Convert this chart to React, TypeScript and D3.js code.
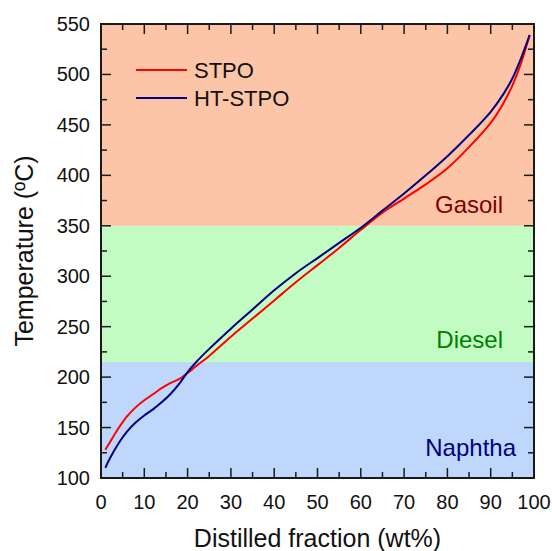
import React from "react";
import * as d3 from "d3";

const fraction = [1, 2, 4, 6, 8, 10, 12, 14, 16, 18, 20, 22, 25, 30, 35, 40, 45, 50, 55, 60, 65, 70, 75, 80, 85, 90, 93, 95, 97, 99];
const stpo = [128, 135, 149, 161, 170, 177, 183, 189, 194, 198, 204, 211, 221, 240, 258, 276, 294, 311, 328, 346, 363, 377, 391, 407, 428, 452, 472, 489, 511, 539];
const htStpo = [110, 119, 134, 146, 155, 162, 168, 175, 183, 193, 205, 215, 228, 248, 267, 286, 303, 318, 333, 348, 365, 382, 400, 419, 440, 463, 481, 496, 516, 539];

const regionNames = ["Naphtha", "Diesel", "Gasoil"];
const regionLow = [100, 215, 350];
const regionHigh = [215, 350, 550];
const regionFill = ["#BFD7FA", "#C3FCC3", "#FCC5A7"];
const regionText = ["#000080", "#008000", "#800000"];
const regionLabelY = [122, 229, 363];

const xTicks = [0, 10, 20, 30, 40, 50, 60, 70, 80, 90, 100];
const yTicks = [100, 150, 200, 250, 300, 350, 400, 450, 500, 550];

const seriesNames = ["STPO", "HT-STPO"];
const seriesColors = ["#FF0000", "#000080"];

export default function App() {
  const W = 552, H = 551;
  const L = 101, R = 534, T = 24, B = 478;
  const x = d3.scaleLinear().domain([0, 100]).range([L, R]);
  const y = d3.scaleLinear().domain([100, 550]).range([B, T]);
  const line = d3
    .line<number>()
    .x((_, i) => x(fraction[i]))
    .curve(d3.curveCatmullRom.alpha(0.5));
  const series = [stpo, htStpo];
  const xMinor = d3.range(0, 101, 5);
  const yMinor = d3.range(100, 551, 25);
  const font = "'Liberation Sans', Arial, sans-serif";
  const axisColor = "#1a1a1a";

  return (
    <svg width={W} height={H} style={{ position: "absolute", left: 0, top: 0 }} fontFamily={font}>
      {regionNames.map((n, i) => (
        <rect key={n} x={L} width={R - L} y={y(regionHigh[i])} height={y(regionLow[i]) - y(regionHigh[i])} fill={regionFill[i]} />
      ))}
      {regionNames.map((n, i) => (
        <text key={n + "t"} x={i === 0 ? 516 : 503} y={y(regionLabelY[i])} textAnchor="end" fontSize={24} fill={regionText[i]}>
          {n}
        </text>
      ))}
      {series.map((s, i) => (
        <path key={i} d={line.y((d) => y(d))(s) || ""} fill="none" stroke={seriesColors[i]} strokeWidth={2} />
      ))}
      {xMinor.map((v) => {
        const major = v % 10 === 0;
        const len = major ? 10 : 6;
        return (
          <g key={"xt" + v} stroke={axisColor} strokeWidth={1.5}>
            <line x1={x(v)} x2={x(v)} y1={B} y2={B - len} />
            <line x1={x(v)} x2={x(v)} y1={T} y2={T + len} />
          </g>
        );
      })}
      {yMinor.map((v) => {
        const major = v % 50 === 0;
        const len = major ? 10 : 6;
        return (
          <g key={"yt" + v} stroke={axisColor} strokeWidth={1.5}>
            <line x1={L} x2={L + len} y1={y(v)} y2={y(v)} />
            <line x1={R} x2={R - len} y1={y(v)} y2={y(v)} />
          </g>
        );
      })}
      <rect x={L} y={T} width={R - L} height={B - T} fill="none" stroke={axisColor} strokeWidth={2} />
      {xTicks.map((v) => (
        <text key={"xl" + v} x={x(v)} y={509} textAnchor="middle" fontSize={20} fill="#111">
          {v}
        </text>
      ))}
      {yTicks.map((v) => (
        <text key={"yl" + v} x={90} y={y(v) + 7} textAnchor="end" fontSize={20} fill="#111">
          {v}
        </text>
      ))}
      <text x={(L + R) / 2} y={547} textAnchor="middle" fontSize={25} fill="#111">
        Distilled fraction (wt%)
      </text>
      <text transform={`translate(33, ${(T + B) / 2}) rotate(-90)`} textAnchor="middle" fontSize={25} fill="#111">
        Temperature (ºC)
      </text>
      {seriesNames.map((n, i) => (
        <g key={n}>
          <line x1={136} x2={187} y1={70 + i * 28} y2={70 + i * 28} stroke={seriesColors[i]} strokeWidth={2} />
          <text x={194} y={78 + i * 28} fontSize={22} fill="#111">
            {n}
          </text>
        </g>
      ))}
    </svg>
  );
}
